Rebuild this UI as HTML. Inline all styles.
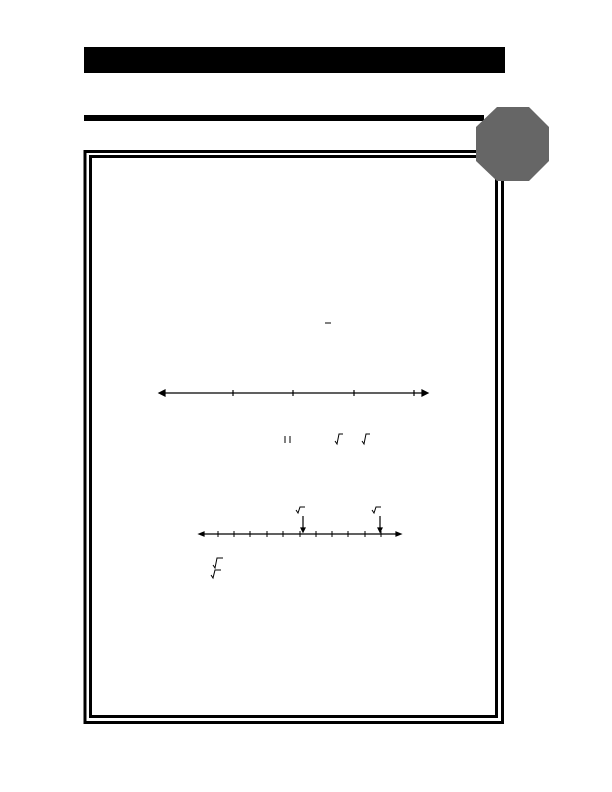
<!DOCTYPE html>
<html><head><style>
body{margin:0;background:#fff;font-family:"Liberation Sans",sans-serif}
svg{display:block}
</style></head><body>
<svg width="612" height="792" viewBox="0 0 612 792">
<rect x="84" y="47" width="421" height="26" fill="#000"/>
<rect x="84" y="115" width="400" height="6" fill="#000"/>
<g fill="none" stroke="#000">
<rect x="85" y="151.5" width="417.5" height="571" stroke-width="3"/>
<rect x="90.5" y="156.5" width="406" height="560" stroke-width="3"/>
</g>
<polygon fill="#666" points="497,107 529,107 549,127 549,161 529,181 497,181 476,161 476,127"/>
<g stroke="#000" stroke-width="1.2">
<line x1="161" y1="393" x2="426" y2="393"/>
<polygon points="159,393 165,390 165,396" fill="#000"/>
<polygon points="428,393 422,390 422,396" fill="#000"/>
<line x1="233" y1="390" x2="233" y2="396"/><line x1="293" y1="390" x2="293" y2="396"/>
<line x1="354" y1="390" x2="354" y2="396"/><line x1="414" y1="390" x2="414" y2="396"/>
</g>
<line x1="325" y1="323" x2="331" y2="323" stroke="#000"/>
<g stroke="#000" fill="none" stroke-width="1">
<line x1="285" y1="436" x2="285" y2="443"/><line x1="290" y1="436" x2="290" y2="443"/>
<polyline points="335,441 337,444 339,434 343,434"/><polyline points="362,441 364,444 366,434 370,434"/>
</g>
<g stroke="#000" stroke-width="1.2">
<line x1="201" y1="534" x2="399" y2="534"/>
<polygon points="199,534 204,532 204,536" fill="#000"/>
<polygon points="401,534 396,532 396,536" fill="#000"/>
<g stroke-width="1">
<line x1="218" y1="531" x2="218" y2="537"/><line x1="234" y1="531" x2="234" y2="537"/>
<line x1="250" y1="531" x2="250" y2="537"/><line x1="267" y1="531" x2="267" y2="537"/>
<line x1="283" y1="531" x2="283" y2="537"/><line x1="300" y1="531" x2="300" y2="537"/>
<line x1="316" y1="531" x2="316" y2="537"/><line x1="332" y1="531" x2="332" y2="537"/>
<line x1="348" y1="531" x2="348" y2="537"/><line x1="365" y1="531" x2="365" y2="537"/>
<line x1="381" y1="531" x2="381" y2="537"/>
</g>
<line x1="303" y1="516" x2="303" y2="530"/><polygon points="301,528 305,528 303,532" fill="#000"/>
<line x1="380" y1="516" x2="380" y2="530"/><polygon points="378,528 382,528 380,532" fill="#000"/>
</g>
<g stroke="#000" fill="none" stroke-width="1">
<polyline points="296,510 298,513 300,507 305,507"/><polyline points="372,510 374,513 376,507 381,507"/>
<polyline points="213,565 215,568 217,558 223,558"/><polyline points="211,575 213,578 215,570 221,570"/>
</g>
</svg>
</body></html>
